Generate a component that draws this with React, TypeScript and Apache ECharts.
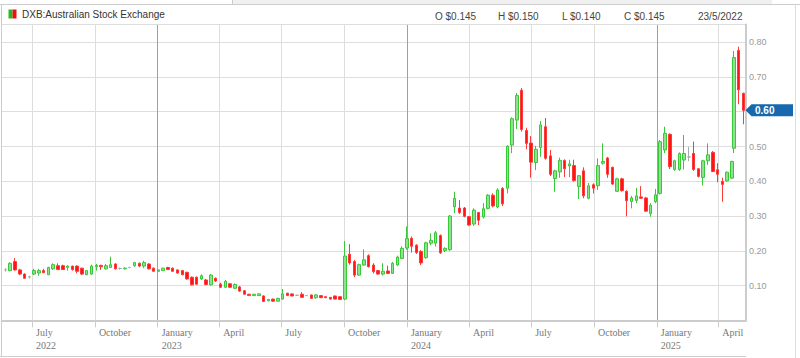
import React, { useEffect, useRef } from 'react';
import * as echarts from 'echarts';

// ---- data ----
const firstWeek = '2022-05-23';
const lateDates = ['2025-04-24', '2025-05-01', '2025-05-08'];

// [open, close, low, high]
const weeks2022 = [
  [0.145, 0.145, 0.140, 0.150], [0.143, 0.164, 0.141, 0.167], [0.169, 0.145, 0.143, 0.179], [0.145, 0.133, 0.130, 0.148],
  [0.133, 0.121, 0.120, 0.135], [0.125, 0.125, 0.120, 0.128], [0.133, 0.143, 0.130, 0.148], [0.136, 0.143, 0.128, 0.148],
  [0.143, 0.137, 0.136, 0.148], [0.131, 0.152, 0.130, 0.154], [0.148, 0.160, 0.145, 0.164], [0.157, 0.146, 0.145, 0.164],
  [0.157, 0.146, 0.145, 0.160], [0.152, 0.156, 0.143, 0.158], [0.156, 0.146, 0.143, 0.157], [0.156, 0.141, 0.135, 0.158],
  [0.150, 0.133, 0.130, 0.151], [0.131, 0.143, 0.130, 0.145], [0.133, 0.156, 0.131, 0.160], [0.154, 0.158, 0.143, 0.162],
  [0.158, 0.154, 0.145, 0.160], [0.148, 0.157, 0.146, 0.162], [0.152, 0.160, 0.150, 0.183], [0.162, 0.148, 0.146, 0.164],
  [0.149, 0.149, 0.146, 0.152], [0.148, 0.150, 0.147, 0.152], [0.152, 0.152, 0.150, 0.154], [0.157, 0.166, 0.154, 0.168],
  [0.164, 0.156, 0.153, 0.166], [0.156, 0.166, 0.150, 0.171], [0.162, 0.148, 0.146, 0.164], [0.150, 0.141, 0.140, 0.152],
];
const weeks2023 = [
  [0.141, 0.145, 0.140, 0.146], [0.143, 0.150, 0.142, 0.151], [0.152, 0.146, 0.145, 0.154], [0.150, 0.141, 0.140, 0.152],
  [0.145, 0.136, 0.134, 0.146], [0.143, 0.131, 0.130, 0.145], [0.138, 0.119, 0.117, 0.140], [0.124, 0.102, 0.100, 0.126],
  [0.124, 0.104, 0.102, 0.126], [0.119, 0.128, 0.116, 0.132], [0.116, 0.103, 0.101, 0.119], [0.102, 0.130, 0.100, 0.133],
  [0.121, 0.113, 0.110, 0.123], [0.104, 0.095, 0.094, 0.108], [0.095, 0.112, 0.094, 0.116], [0.105, 0.095, 0.094, 0.107],
  [0.092, 0.103, 0.091, 0.106], [0.096, 0.084, 0.082, 0.099], [0.085, 0.075, 0.074, 0.087], [0.075, 0.071, 0.070, 0.076],
  [0.071, 0.075, 0.070, 0.076], [0.071, 0.076, 0.070, 0.077], [0.070, 0.054, 0.053, 0.072], [0.056, 0.060, 0.055, 0.061],
  [0.061, 0.055, 0.054, 0.062], [0.055, 0.063, 0.054, 0.065], [0.061, 0.076, 0.060, 0.090], [0.078, 0.071, 0.070, 0.079],
  [0.076, 0.070, 0.069, 0.077], [0.072, 0.072, 0.071, 0.073], [0.075, 0.066, 0.065, 0.081], [0.071, 0.071, 0.070, 0.072],
  [0.073, 0.063, 0.062, 0.074], [0.065, 0.073, 0.062, 0.075], [0.071, 0.065, 0.064, 0.072], [0.068, 0.065, 0.064, 0.069],
  [0.066, 0.061, 0.060, 0.067], [0.070, 0.061, 0.060, 0.071], [0.068, 0.060, 0.059, 0.069], [0.061, 0.185, 0.058, 0.228],
  [0.190, 0.165, 0.160, 0.219], [0.169, 0.130, 0.124, 0.174], [0.130, 0.160, 0.128, 0.163], [0.159, 0.174, 0.157, 0.204],
  [0.186, 0.154, 0.152, 0.190], [0.159, 0.140, 0.135, 0.164], [0.143, 0.133, 0.131, 0.145], [0.133, 0.141, 0.129, 0.164],
  [0.142, 0.135, 0.133, 0.157], [0.135, 0.164, 0.133, 0.168], [0.159, 0.182, 0.157, 0.186], [0.178, 0.207, 0.176, 0.213],
];
const weeks2024 = [
  [0.208, 0.235, 0.203, 0.270], [0.236, 0.213, 0.195, 0.241], [0.216, 0.195, 0.191, 0.219], [0.198, 0.165, 0.159, 0.202],
  [0.180, 0.223, 0.177, 0.226], [0.222, 0.230, 0.216, 0.250], [0.222, 0.252, 0.212, 0.257], [0.244, 0.194, 0.191, 0.247],
  [0.201, 0.207, 0.196, 0.210], [0.203, 0.300, 0.200, 0.303], [0.326, 0.351, 0.308, 0.370], [0.323, 0.310, 0.306, 0.346],
  [0.323, 0.299, 0.296, 0.326], [0.298, 0.274, 0.272, 0.300], [0.277, 0.317, 0.272, 0.322], [0.310, 0.288, 0.274, 0.312],
  [0.297, 0.321, 0.293, 0.337], [0.322, 0.360, 0.319, 0.363], [0.360, 0.329, 0.325, 0.365], [0.326, 0.375, 0.322, 0.380],
  [0.379, 0.335, 0.329, 0.383], [0.380, 0.501, 0.365, 0.504], [0.504, 0.580, 0.481, 0.584], [0.576, 0.647, 0.550, 0.654],
  [0.662, 0.549, 0.543, 0.668], [0.546, 0.509, 0.492, 0.554], [0.510, 0.455, 0.410, 0.530], [0.454, 0.492, 0.432, 0.502],
  [0.497, 0.562, 0.470, 0.573], [0.557, 0.466, 0.462, 0.582], [0.473, 0.420, 0.415, 0.490], [0.408, 0.430, 0.370, 0.433],
  [0.427, 0.460, 0.410, 0.468], [0.460, 0.436, 0.412, 0.463], [0.444, 0.450, 0.412, 0.462], [0.445, 0.402, 0.399, 0.462],
  [0.385, 0.416, 0.349, 0.418], [0.430, 0.358, 0.351, 0.440], [0.351, 0.387, 0.348, 0.395], [0.390, 0.380, 0.365, 0.394],
  [0.387, 0.445, 0.375, 0.466], [0.452, 0.457, 0.448, 0.509], [0.467, 0.420, 0.410, 0.470], [0.440, 0.392, 0.390, 0.442],
  [0.371, 0.407, 0.370, 0.410], [0.407, 0.373, 0.370, 0.410], [0.371, 0.344, 0.299, 0.374], [0.342, 0.352, 0.322, 0.358],
  [0.345, 0.358, 0.337, 0.381], [0.355, 0.351, 0.350, 0.386], [0.352, 0.314, 0.312, 0.355], [0.307, 0.331, 0.298, 0.337],
  [0.341, 0.361, 0.337, 0.378],
];
const weeks2025 = [
  [0.365, 0.514, 0.362, 0.519], [0.490, 0.538, 0.481, 0.557], [0.535, 0.442, 0.435, 0.538], [0.434, 0.459, 0.430, 0.462],
  [0.434, 0.480, 0.430, 0.483], [0.461, 0.480, 0.434, 0.533], [0.470, 0.470, 0.458, 0.499], [0.480, 0.434, 0.430, 0.514],
  [0.436, 0.414, 0.411, 0.438], [0.411, 0.459, 0.388, 0.462], [0.459, 0.476, 0.447, 0.509], [0.483, 0.428, 0.426, 0.487],
  [0.433, 0.420, 0.397, 0.452], [0.399, 0.391, 0.341, 0.410], [0.401, 0.426, 0.399, 0.428], [0.409, 0.457, 0.407, 0.459],
  [0.495, 0.756, 0.481, 0.775], [0.776, 0.663, 0.622, 0.787], [0.653, 0.604, 0.564, 0.655],
];

const quarterTicks = [
  '2022-07-01', '2022-10-01', '2023-01-01', '2023-04-01', '2023-07-01', '2023-10-01',
  '2024-01-01', '2024-04-01', '2024-07-01', '2024-10-01', '2025-01-01', '2025-04-01',
];
const monthNames = ['January', 'February', 'March', 'April', 'May', 'June', 'July', 'August', 'September', 'October', 'November', 'December'];

const header = {
  name: 'DXB:Australian Stock Exchange',
  open: 'O $0.145',
  high: 'H $0.150',
  low: 'L $0.140',
  close: 'C $0.145',
  date: '23/5/2022',
};

const axisStart = '2022-05-17T12:00:00Z';
const axisEnd = '2025-05-11T16:00:00Z';

export default function App() {
  const ref = useRef<HTMLDivElement>(null);

  useEffect(() => {
    if (!ref.current) return;
    const chart = echarts.init(ref.current, undefined, { renderer: 'svg' });

    const candles = [...weeks2022, ...weeks2023, ...weeks2024, ...weeks2025];
    const weekly = candles.length - lateDates.length;
    const t0 = Date.parse(firstWeek + 'T00:00:00Z');
    const times = candles.map((_, i) => (i < weekly ? t0 + i * 7 * 86400000 : Date.parse(lateDates[i - weekly] + 'T00:00:00Z')));
    const data = candles.map((c, i) => [times[i], c[0], c[1], c[2], c[3]]);
    const tickTimes = quarterTicks.map((d) => Date.parse(d + 'T00:00:00Z'));
    const lastClose = candles[candles.length - 1][1];

    const fmtX = (v: number) => {
      const d = new Date(v);
      const m = d.getUTCMonth();
      const name = monthNames[m];
      return m === 0 || v === tickTimes[0] ? name + '\n' + d.getUTCFullYear() : name;
    };

    const option: any = {
      animation: false,
      grid: { left: 1.7, right: 54, top: 24.5, bottom: 37.7 },
      xAxis: {
        type: 'value',
        min: Date.parse(axisStart),
        max: Date.parse(axisEnd),
        offset: 3,
        axisLine: { show: true, lineStyle: { color: '#cccccc', width: 2 } },
        axisTick: { show: true, customValues: tickTimes, length: 7, lineStyle: { color: '#cccccc' } },
        axisLabel: {
          customValues: tickTimes,
          formatter: fmtX,
          align: 'left',
          padding: [0, 0, 0, 4],
          fontFamily: 'Liberation Serif',
          fontSize: 10,
          lineHeight: 13,
          color: '#777777',
          margin: 3,
          showMinLabel: true,
          showMaxLabel: true,
        },
        splitLine: { show: true, lineStyle: { color: ['#dddddd', '#dddddd', '#a0a0a0', '#dddddd'], width: 1 } },
      },
      yAxis: {
        type: 'value',
        position: 'right',
        min: 0,
        max: 0.851,
        interval: 0.1,
        axisLine: { show: true, lineStyle: { color: '#cccccc', width: 2 } },
        axisTick: { show: false },
        axisLabel: {
          margin: 3,
          // the last-price tag covers the tick label it sits on
          formatter: (v: number) => (v > 0.05 && v < 0.83 && Math.abs(v - lastClose) > 0.03 ? v.toFixed(2) : ''),
          fontFamily: 'Liberation Sans',
          fontSize: 9,
          color: '#999999',
        },
        splitLine: {
          show: true,
          lineStyle: {
            color: ['rgba(0,0,0,0)', '#dedede', '#dedede', '#dedede', '#dedede', '#dedede', '#dedede', '#dedede', '#dedede', '#dedede'],
            width: 1,
          },
        },
      },
      series: [
        {
          type: 'candlestick',
          data,
          barWidth: 3,
          itemStyle: {
            color: '#8fe08f',
            color0: '#ff1414',
            borderColor: '#38c838',
            borderColor0: '#ff3838',
            borderColorDoji: '#a8a8a8',
            borderWidth: 1,
          },
        },
      ],
    };
    chart.setOption(option);

    const ty = chart.convertToPixel({ yAxisIndex: 0 }, lastClose) as number;
    const textFont = '10px "Liberation Sans"';
    chart.setOption({
      graphic: [
        { type: 'rect', shape: { x: 232, y: 0, width: 540, height: 4 }, style: { fill: '#f0f0f0' }, silent: true },
        { type: 'line', shape: { x1: 0, y1: 4.5, x2: 800, y2: 4.5 }, style: { stroke: '#cccccc', lineWidth: 1 }, silent: true },
        { type: 'line', shape: { x1: 232.5, y1: 0, x2: 232.5, y2: 4 }, style: { stroke: '#cccccc', lineWidth: 1 }, silent: true },
        { type: 'line', shape: { x1: 1.5, y1: 4.5, x2: 1.5, y2: 357 }, style: { stroke: '#cccccc', lineWidth: 1 }, silent: true },
        { type: 'line', shape: { x1: 795.5, y1: 4.5, x2: 795.5, y2: 358 }, style: { stroke: '#dddddd', lineWidth: 1 }, silent: true },
        { type: 'line', shape: { x1: 0, y1: 356.5, x2: 746, y2: 356.5 }, style: { stroke: '#cccccc', lineWidth: 1 }, silent: true },
        { type: 'line', shape: { x1: 1.5, y1: 24.5, x2: 746, y2: 24.5 }, style: { stroke: '#dddddd', lineWidth: 1 }, silent: true },
        { type: 'rect', shape: { x: 8.5, y: 9.5, width: 4, height: 9 }, style: { fill: '#22bb22' }, silent: true },
        { type: 'rect', shape: { x: 12.5, y: 9.5, width: 4, height: 9 }, style: { fill: '#ee1111' }, silent: true },
        { type: 'text', x: 22, y: 14.5, style: { text: header.name, font: textFont, fill: '#333333', verticalAlign: 'middle' }, silent: true },
        { type: 'text', x: 435, y: 16, style: { text: header.open, font: textFont, fill: '#444444', verticalAlign: 'middle' }, silent: true },
        { type: 'text', x: 498, y: 16, style: { text: header.high, font: textFont, fill: '#444444', verticalAlign: 'middle' }, silent: true },
        { type: 'text', x: 562, y: 16, style: { text: header.low, font: textFont, fill: '#444444', verticalAlign: 'middle' }, silent: true },
        { type: 'text', x: 624, y: 16, style: { text: header.close, font: textFont, fill: '#444444', verticalAlign: 'middle' }, silent: true },
        { type: 'text', x: 698, y: 16, style: { text: header.date, font: textFont, fill: '#444444', verticalAlign: 'middle' }, silent: true },
        {
          type: 'polygon',
          shape: { points: [[745.5, ty], [751.5, ty - 6], [793, ty - 6], [793, ty + 6], [751.5, ty + 6]] },
          style: { fill: '#1768ae' },
          silent: true,
          z: 100,
        },
        {
          type: 'text',
          x: 755,
          y: ty,
          style: { text: lastClose.toFixed(2), font: 'bold 10px "Liberation Sans"', fill: '#ffffff', verticalAlign: 'middle' },
          silent: true,
          z: 101,
        },
      ],
    });

    return () => chart.dispose();
  }, []);

  return <div ref={ref} style={{ position: 'absolute', left: 0, top: 0, width: 800, height: 358 }} />;
}
